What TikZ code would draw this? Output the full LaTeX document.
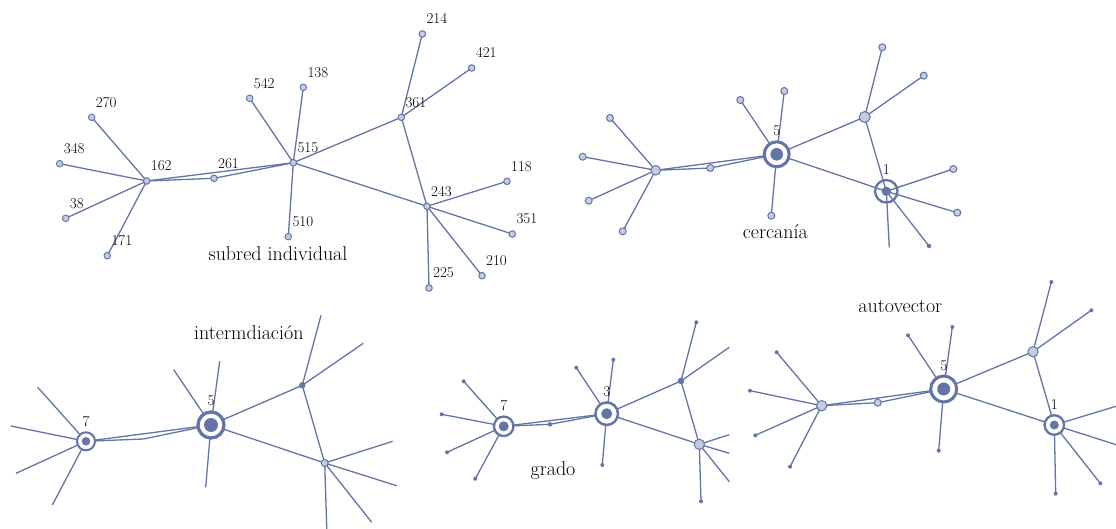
\documentclass[tikz,border=0pt]{standalone}
\usepackage{fontspec}
\usetikzlibrary{positioning,backgrounds}
\definecolor{netblue}{RGB}{99,117,167}
\definecolor{netlight}{RGB}{197,204,224}
\newcommand{\numfont}{\fontsize{15}{18}\selectfont}
\newcommand{\capfont}{\fontsize{20}{24}\selectfont}
\tikzset{
  edge/.style={netblue, line width=1.3pt},
  bead/.style={circle, draw=netblue, fill=netlight, line width=1pt, inner sep=0pt, minimum size=#1},
  bead/.default=6.5pt,
  dot/.style={circle, fill=netblue, inner sep=0pt, minimum size=#1},
  dot/.default=4pt,
  ring/.style 2 args={circle, draw=netblue, fill=white, line width=#2, inner sep=0pt, minimum size=#1},
  tag/.style={font=\numfont, text=black, inner sep=0pt, anchor=base west},
  toptag/.style={font=\numfont, text=black, inner sep=0pt},
  caption/.style={font=\capfont, text=black, inner sep=0pt, anchor=base}
}

\begin{document}
\begin{tikzpicture}[x=1pt,y=-1pt]
    \useasboundingbox (0,0) rectangle (1116,529);

    % subred individual
    \foreach \id/\px/\py in {162/146.7/181, 261/214/178.3, 515/293.3/162.7, 361/401.3/117.3,
        243/427/206.3, 270/91.7/117.3, 348/59.7/163.7, 38/65.7/218.3, 171/107.3/255.7,
        542/249.7/98.3, 138/303.3/87.3, 510/288.3/236.7, 214/422.3/34, 421/471.7/68,
        118/507/181.3, 351/512.3/234, 210/482/275.7, 225/429/288}
      \node[bead] (n\id) at (\px,\py) {};
    \foreach \id in {162,261,515,361,243,270,348,38,171,542,138,510,214,421,118,351,210,225}
      \node[tag] (l\id) at ([shift={(4,-10)}]n\id) {\id};
    \node[caption] (tsub) at (278,260.5) {subred individual};

    % cercania
    \node[bead=9.5pt] (cA) at (655.7,170.3) {};
    \node[bead=7pt] (cB) at (710.3,168) {};
    \node[ring={25pt}{3pt}] (cC) at (776.7,154.3) {};
    \node[dot=12.6pt] (cCc) at (cC) {};
    \node[bead=11pt] (cD) at (864.7,117) {};
    \node[ring={22.5pt}{2.3pt}, fill=none] (cE) at (886.3,191.3) {};
    \node[dot=9.4pt] (cEc) at (cE) {};
    \foreach \id/\px/\py in {a1/610/118, a2/582.7/156.7, a3/588.7/200.7, a4/622.7/231.3,
        c1/740.3/100, c2/784.3/91, c3/771.3/215.7, d1/882.3/47.3, d2/923.7/75.7,
        e1/953.3/169, e2/957.3/212.7}
      \node[bead=7pt] (c\id) at (\px,\py) {};
    \node[dot=4.5pt] (ce3) at (929,246) {};
    \coordinate (ce4) at (889.3,247.3);
    \node[toptag, above=4pt of cC] (cCtag) {5};
    \node[toptag, above=4pt of cE] (cEtag) {1};
    \node[caption] (tcer) at (775.3,239) {cercanía};

    % intermediacion
    \node[ring={18pt}{2pt}] (iA) at (86,441.3) {};
    \node[dot=8.6pt] (iAc) at (iA) {};
    \coordinate (iB) at (143.3,439);
    \node[ring={26pt}{3.3pt}] (iC) at (211,425) {};
    \node[dot=14pt] (iCc) at (iC) {};
    \node[dot=6.5pt] (iD) at (302.3,385.3) {};
    \node[bead=7pt] (iE) at (324.7,463) {};
    \foreach \id/\px/\py in {a1/37.7/387.3, a2/11/426, a3/16/473.3, a4/52.3/505,
        c1/173.7/369.7, c2/219.7/361.3, c3/205.7/487.3, d1/321/315.3, d2/363.3/343.3,
        e1/392.7/441.3, e2/396.7/485.7, e3/371.7/522.3, e4/326.8/530}
      \coordinate (i\id) at (\px,\py);
    \node[toptag, above=4pt of iA] (iAtag) {7};
    \node[toptag, above=4pt of iC] (iCtag) {5};
    \node[caption] (tint) at (248.8,339.3) {intermdiación};

    % grado
    \node[ring={19.5pt}{2.3pt}] (gA) at (503.7,426.3) {};
    \node[dot=10pt] (gAc) at (gA) {};
    \node[dot=4.5pt] (gB) at (550,424.3) {};
    \node[ring={22.5pt}{2.5pt}] (gC) at (606.7,413.7) {};
    \node[dot=11pt] (gCc) at (gC) {};
    \node[dot=6.5pt] (gD) at (681,381) {};
    \node[bead=10.3pt] (gE) at (699.3,444.3) {};
    \foreach \id/\px/\py in {a1/463.7/381.3, a2/441.7/414.3, a3/447/452.3, a4/475.3/478.7,
        c1/576.3/367.7, c2/613.3/359.7, c3/602.3/465, d1/696.3/322.3, e4/701/501.3}
      \node[dot] (g\id) at (\px,\py) {};
    \foreach \id/\px/\py in {d2/729.3/347.3, e1/729.3/434.7, e2/729.3/453.3, e3/729.3/481.7}
      \coordinate (g\id) at (\px,\py);
    \node[toptag, above=4pt of gA] (gAtag) {7};
    \node[toptag, above=4pt of gC] (gCtag) {3};
    \node[caption] (tgra) at (553,475.7) {grado};

    % autovector
    \node[bead=10.3pt] (vA) at (821.7,405.7) {};
    \node[bead=7pt] (vB) at (877.7,402.7) {};
    \node[ring={26pt}{3pt}] (vC) at (943.7,389) {};
    \node[dot=13pt] (vCc) at (vC) {};
    \node[bead=10.3pt] (vD) at (1033,351.7) {};
    \node[ring={19.5pt}{2.3pt}] (vE) at (1054.3,425) {};
    \node[dot=9pt] (vEc) at (vE) {};
    \foreach \id/\px/\py in {a1/776.7/352.3, a2/750/390.7, a3/755.3/435.3, a4/790/466.7,
        c1/908/335.3, c2/952.3/327, c3/938.7/450.7, d1/1051.3/282, d2/1091.3/310.3,
        e3/1100.3/483.3, e4/1055.7/493.7}
      \node[dot] (v\id) at (\px,\py) {};
    \coordinate (ve1) at (1117,406);
    \coordinate (ve2) at (1117,445);
    \node[toptag, above=4pt of vC] (vCtag) {5};
    \node[toptag, above=4pt of vE] (vEtag) {1};
    \node[caption] (taut) at (900.3,312.7) {autovector};

    % edges
    \begin{pgfonlayer}{background}
      \foreach \a/\b in {162/270, 162/348, 162/38, 162/171, 162/261, 261/515, 162/515,
          515/542, 515/138, 515/510, 515/361, 515/243, 361/214, 361/421, 361/243,
          243/118, 243/351, 243/210, 243/225}
        \draw[edge] (n\a.center) -- (n\b.center);
      \foreach \p in {c,i,g,v} {
        \foreach \a/\b in {A/a1, A/a2, A/a3, A/a4, A/B, B/C, A/C, C/c1, C/c2, C/c3,
            C/D, C/E, D/d1, D/d2, D/E, E/e1, E/e2, E/e3, E/e4}
          \draw[edge] (\p\a.center) -- (\p\b.center);
      }
    \end{pgfonlayer}
\end{tikzpicture}
\end{document}
